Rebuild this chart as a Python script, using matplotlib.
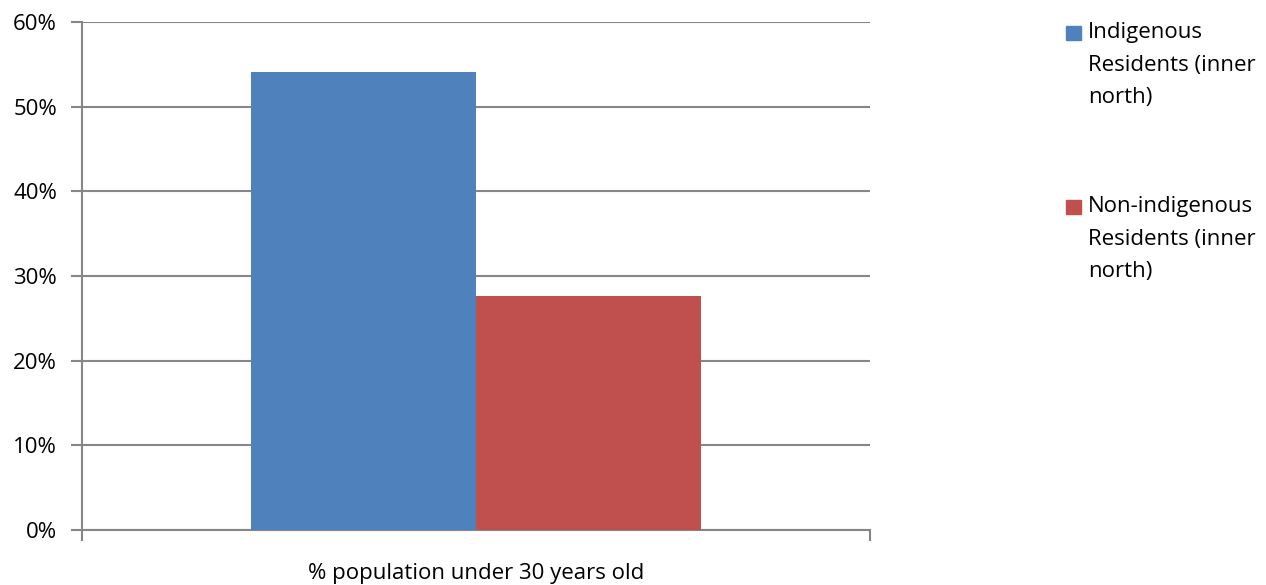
import matplotlib.pyplot as plt
from matplotlib.patches import Rectangle
from matplotlib.ticker import PercentFormatter

plt.rcParams['font.family'] = ['Open Sans', 'DejaVu Sans']

category = '% population under 30 years old'
series = ['Indigenous\nResidents (inner\nnorth)',
          'Non-indigenous\nResidents (inner\nnorth)']
values = [54.1, 27.6]
colors = ['#4f81bd', '#c0504d']

fig = plt.figure(figsize=(12.66, 5.85), dpi=100)
ax = fig.add_axes([82/1266, 1 - 530/585, 788/1266, 508/585])

w = 0.2855
for i, (v, c) in enumerate(zip(values, colors)):
    ax.bar(-w/2 + i*w, v, width=w, color=c, zorder=3)

ax.set_xlim(-0.5, 0.5)
ax.set_ylim(0, 60)
ax.set_yticks(range(0, 61, 10))
ax.yaxis.set_major_formatter(PercentFormatter(decimals=0))
ax.grid(axis='y', color='#868686', linewidth=1.5, zorder=0)

ax.set_xticks([-0.5, 0.5])
ax.tick_params(axis='x', labelbottom=False)
ax.set_xlabel(category, fontsize=16, color='black', labelpad=16)

for s in ['top', 'right']:
    ax.spines[s].set_visible(False)
for s in ['left', 'bottom']:
    ax.spines[s].set_color('#868686')
    ax.spines[s].set_linewidth(1.5)
ax.tick_params(axis='y', length=8, width=1.5, color='#868686', labelsize=16, pad=10)
ax.tick_params(axis='x', length=8, width=1.5, color='#868686')

# legend
tops = [26, 200]
for lab, c, t in zip(series, colors, tops):
    fig.patches.append(Rectangle((1066/1266, 1 - (t+14)/585), 15/1266, 14/585,
                                 transform=fig.transFigure, color=c))
    fig.text(1088/1266, 1 - (t-4)/585, lab, fontsize=16, va='top', ha='left',
             linespacing=1.72)

fig.savefig('out.png', dpi=100)
